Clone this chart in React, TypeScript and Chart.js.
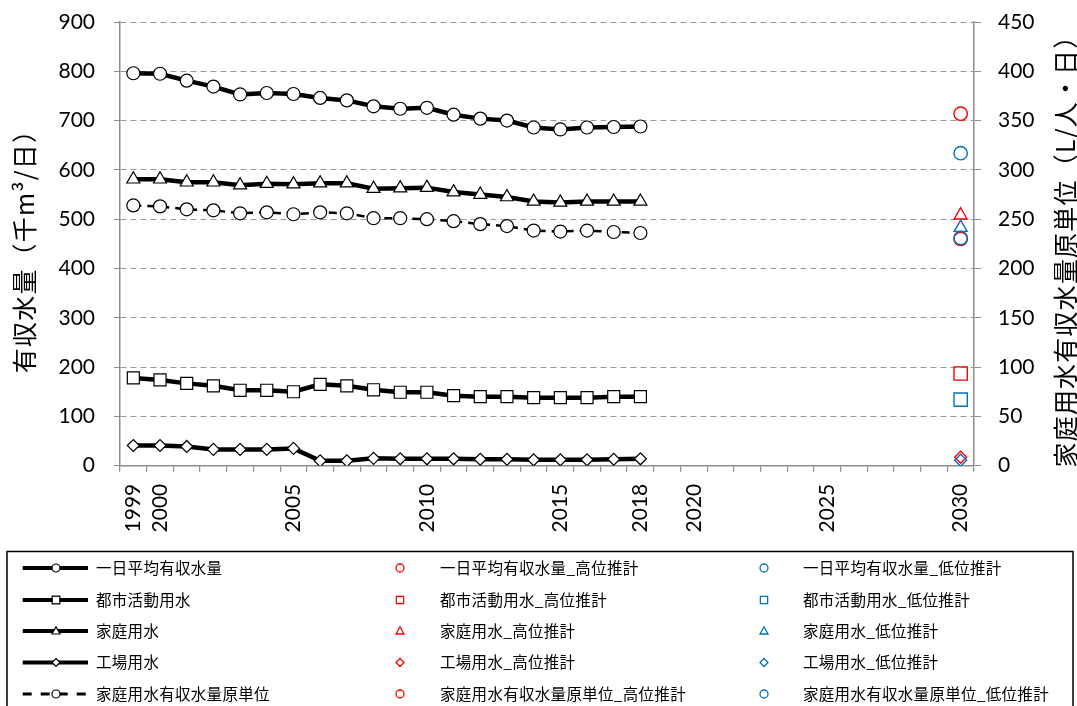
import React, { useEffect, useRef } from 'react';
import { Chart, registerables } from 'chart.js';

Chart.register(...registerables);

// ---------- data ----------
const YEARS = [
  '1999', '2000', '2001', '2002', '2003', '2004', '2005', '2006', '2007', '2008',
  '2009', '2010', '2011', '2012', '2013', '2014', '2015', '2016', '2017', '2018',
  '2019', '2020', '2021', '2022', '2023', '2024', '2025', '2026', '2027', '2028',
  '2029', '2030',
];
const SHOWN_YEARS = ['1999', '2000', '2005', '2010', '2015', '2018', '2020', '2025', '2030'];

const SERIES_NAMES = ['一日平均有収水量', '都市活動用水', '家庭用水', '工場用水', '家庭用水有収水量原単位'];

const DAILY_AVG = [796, 795, 781, 769, 753, 756, 754, 746, 741, 729, 724, 726, 712, 704, 700, 686, 682, 686, 687, 688];
const URBAN = [178, 174, 167, 162, 153, 153, 150, 165, 162, 154, 149, 149, 142, 140, 140, 138, 138, 138, 140, 140];
const HOUSEHOLD = [581, 581, 575, 575, 569, 572, 571, 573, 573, 562, 563, 564, 555, 550, 545, 536, 534, 536, 536, 536];
const FACTORY = [41, 41, 39, 33, 33, 33, 35, 10, 10, 15, 14, 14, 14, 13, 13, 12, 12, 12, 13, 14];
const HOUSEHOLD_UNIT = [264, 263, 260, 259, 256, 257, 255, 257, 256, 251, 251, 250, 248, 245, 243, 238.5, 237.5, 238.5, 237, 236];

const PROJECTION_YEAR = '2030';
// order follows SERIES_NAMES
const HIGH_ESTIMATES = [714, 187, 508, 17, 230];
const LOW_ESTIMATES = [634, 134, 483, 11, 231];

const LEFT_TITLE = '有収水量（千m³/日）';
const RIGHT_TITLE = '家庭用水有収水量原単位（L/人・日）';
const HIGH_SUFFIX = '_高位推計';
const LOW_SUFFIX = '_低位推計';

// ---------- styles ----------
const SERIES_DATA = [DAILY_AVG, URBAN, HOUSEHOLD, FACTORY, HOUSEHOLD_UNIT];
const POINT_STYLES = ['circle', 'rect', 'triangle', 'rectRot', 'circle'];
const POINT_RADII = [6.5, 8.5, 7.5, 6, 6.5];
const PROJ_RADII = [6.7, 9.4, 7.5, 6, 6.7];
const AXIS_IDS = ['y', 'y', 'y', 'y', 'y2'];
const RED = '#FF0000';
const BLUE = '#0070C0';
const AXIS_GRAY = '#8c8c8c';
const CJK = '"Noto Sans CJK JP", "Noto Sans", sans-serif';
const NUM_FONT = 'Lato, "Open Sans", sans-serif';

function drawMarker(ctx: CanvasRenderingContext2D, style: string, x: number, y: number, r: number, stroke: string, fill: string | null, lw: number) {
  ctx.save();
  ctx.beginPath();
  if (style === 'circle') {
    ctx.arc(x, y, r, 0, Math.PI * 2);
  } else if (style === 'rect') {
    ctx.rect(x - r, y - r, 2 * r, 2 * r);
  } else if (style === 'triangle') {
    ctx.moveTo(x, y - r * 1.05);
    ctx.lineTo(x + r, y + r * 0.75);
    ctx.lineTo(x - r, y + r * 0.75);
    ctx.closePath();
  } else {
    ctx.moveTo(x, y - r);
    ctx.lineTo(x + r, y);
    ctx.lineTo(x, y + r);
    ctx.lineTo(x - r, y);
    ctx.closePath();
  }
  if (fill) {
    ctx.fillStyle = fill;
    ctx.fill();
  }
  ctx.lineWidth = lw;
  ctx.strokeStyle = stroke;
  ctx.stroke();
  ctx.restore();
}

function drawVerticalTitle(ctx: CanvasRenderingContext2D, text: string, x: number, y: number) {
  ctx.save();
  ctx.fillStyle = '#000';
  ctx.font = `25px ${CJK}`;
  (ctx as any).letterSpacing = '1.2px';
  ctx.textAlign = 'center';
  ctx.textBaseline = 'middle';
  ctx.translate(x, y);
  ctx.rotate(-Math.PI / 2);
  ctx.fillText(text, 0, 0);
  ctx.restore();
}

const overlayPlugin = {
  id: 'overlay',
  afterDraw(chart: any) {
    const ctx: CanvasRenderingContext2D = chart.ctx;
    // axis titles (both read bottom-to-top)
    drawVerticalTitle(ctx, LEFT_TITLE, 24, 245);
    drawVerticalTitle(ctx, RIGHT_TITLE, 1065, 245);

    // legend box
    ctx.save();
    ctx.strokeStyle = '#000';
    ctx.lineWidth = 1.5;
    ctx.strokeRect(7, 551.5, 1066, 170);
    ctx.font = `15.5px ${CJK}`;
    (ctx as any).letterSpacing = '0.3px';
    ctx.fillStyle = '#000';
    ctx.textAlign = 'left';
    ctx.textBaseline = 'middle';
    const rowY = [568, 600, 631, 662.5, 694];
    SERIES_NAMES.forEach((name, i) => {
      const y = rowY[i];
      const style = POINT_STYLES[i];
      // column 1: line sample
      ctx.save();
      ctx.strokeStyle = '#000';
      ctx.lineCap = 'butt';
      if (i === 4) {
        ctx.lineWidth = 3;
        ctx.setLineDash([9, 9]);
      } else {
        ctx.lineWidth = 4;
      }
      ctx.beginPath();
      ctx.moveTo(22.7, y);
      ctx.lineTo(88, y);
      ctx.stroke();
      ctx.restore();
      drawMarker(ctx, style, 56, y, style === 'rect' ? 3.8 : 4, '#000', '#fff', 1.2);
      ctx.fillText(name, 96, y);
      // column 2: high estimate
      drawMarker(ctx, style, 400, y, style === 'rect' ? 3.6 : 4, RED, null, 1.3);
      ctx.fillText(name + HIGH_SUFFIX, 440, y);
      // column 3: low estimate
      drawMarker(ctx, style, 764, y, style === 'rect' ? 3.6 : 4, BLUE, null, 1.3);
      ctx.fillText(name + LOW_SUFFIX, 803, y);
    });
    ctx.restore();
  },
};

export default function App() {
  const canvasRef = useRef<HTMLCanvasElement | null>(null);

  useEffect(() => {
    const canvas = canvasRef.current;
    if (!canvas) return;

    const actualSets = SERIES_NAMES.map((name, i) => ({
      label: name,
      data: SERIES_DATA[i],
      yAxisID: AXIS_IDS[i],
      borderColor: '#000',
      borderWidth: i === 4 ? 2.5 : 4.5,
      borderDash: i === 4 ? [8, 6] : [],
      pointStyle: POINT_STYLES[i],
      pointRadius: POINT_RADII[i],
      pointBackgroundColor: '#fff',
      pointBorderColor: '#000',
      pointBorderWidth: 1.2,
      tension: 0,
      fill: false,
    }));

    const projSets = (values: number[], color: string, suffix: string) =>
      SERIES_NAMES.map((name, i) => ({
        label: name + suffix,
        data: [{ x: PROJECTION_YEAR, y: values[i] }],
        yAxisID: AXIS_IDS[i],
        showLine: false,
        borderColor: color,
        pointStyle: POINT_STYLES[i],
        pointRadius: PROJ_RADII[i],
        pointBackgroundColor: 'rgba(0,0,0,0)',
        pointBorderColor: color,
        pointBorderWidth: 1.4,
      }));

    // first dataset is drawn on top
    const datasets = [
      ...projSets(LOW_ESTIMATES, BLUE, LOW_SUFFIX),
      ...projSets(HIGH_ESTIMATES, RED, HIGH_SUFFIX),
      ...actualSets,
    ];

    const chart = new Chart(canvas, {
      type: 'line',
      data: { labels: YEARS, datasets },
      options: {
        animation: false,
        responsive: false,
        devicePixelRatio: 1,
        events: [],
        layout: { padding: { top: 22, bottom: 161, left: 0, right: 0 } },
        plugins: {
          legend: { display: false },
          tooltip: { enabled: false },
          title: { display: false },
        },
        scales: {
          x: {
            type: 'category',
            offset: true,
            grid: {
              offset: true,
              drawOnChartArea: false,
              drawTicks: true,
              tickLength: 6,
              color: AXIS_GRAY,
              tickColor: AXIS_GRAY,
              lineWidth: 1.2,
            },
            border: { display: true, color: AXIS_GRAY, width: 1.5 },
            ticks: {
              autoSkip: false,
              maxRotation: 90,
              minRotation: 90,
              padding: 12,
              color: '#000',
              font: { family: NUM_FONT, size: 21 },
              callback: function (this: any, value: any) {
                const lbl = this.getLabelForValue(value);
                return SHOWN_YEARS.includes(lbl) ? lbl : '';
              },
            },
            afterFit: (scale: any) => {
              scale.height = 79.3;
              scale.paddingLeft = 0;
              scale.paddingRight = 0;
            },
          },
          y: {
            type: 'linear',
            position: 'left',
            min: 0,
            max: 900,
            grid: {
              color: '#9a9a9a',
              lineWidth: 1,
              tickLength: 6,
              tickColor: AXIS_GRAY,
              drawTicks: true,
            },
            border: { display: true, color: AXIS_GRAY, width: 1.5, dash: [6, 4] },
            ticks: {
              stepSize: 100,
              padding: 19,
              color: '#000',
              font: { family: NUM_FONT, size: 21 },
            },
            afterFit: (scale: any) => {
              scale.width = 120;
              scale.paddingTop = 0;
              scale.paddingBottom = 0;
            },
          },
          y2: {
            type: 'linear',
            position: 'right',
            min: 0,
            max: 450,
            grid: {
              drawOnChartArea: false,
              drawTicks: true,
              tickLength: 7,
              color: AXIS_GRAY,
              tickColor: AXIS_GRAY,
            },
            border: { display: true, color: AXIS_GRAY, width: 1.5 },
            ticks: {
              stepSize: 50,
              padding: 17,
              color: '#000',
              font: { family: NUM_FONT, size: 21 },
            },
            afterFit: (scale: any) => {
              scale.width = 103;
              scale.paddingTop = 0;
              scale.paddingBottom = 0;
            },
          },
        },
      } as any,
      plugins: [overlayPlugin],
    });

    return () => {
      chart.destroy();
    };
  }, []);

  return (
    <div style={{ position: 'fixed', left: 0, top: 0, width: 1077, height: 706, background: '#fff' }}>
      <canvas ref={canvasRef} width={1077} height={706} style={{ display: 'block', width: 1077, height: 706 }} />
    </div>
  );
}
